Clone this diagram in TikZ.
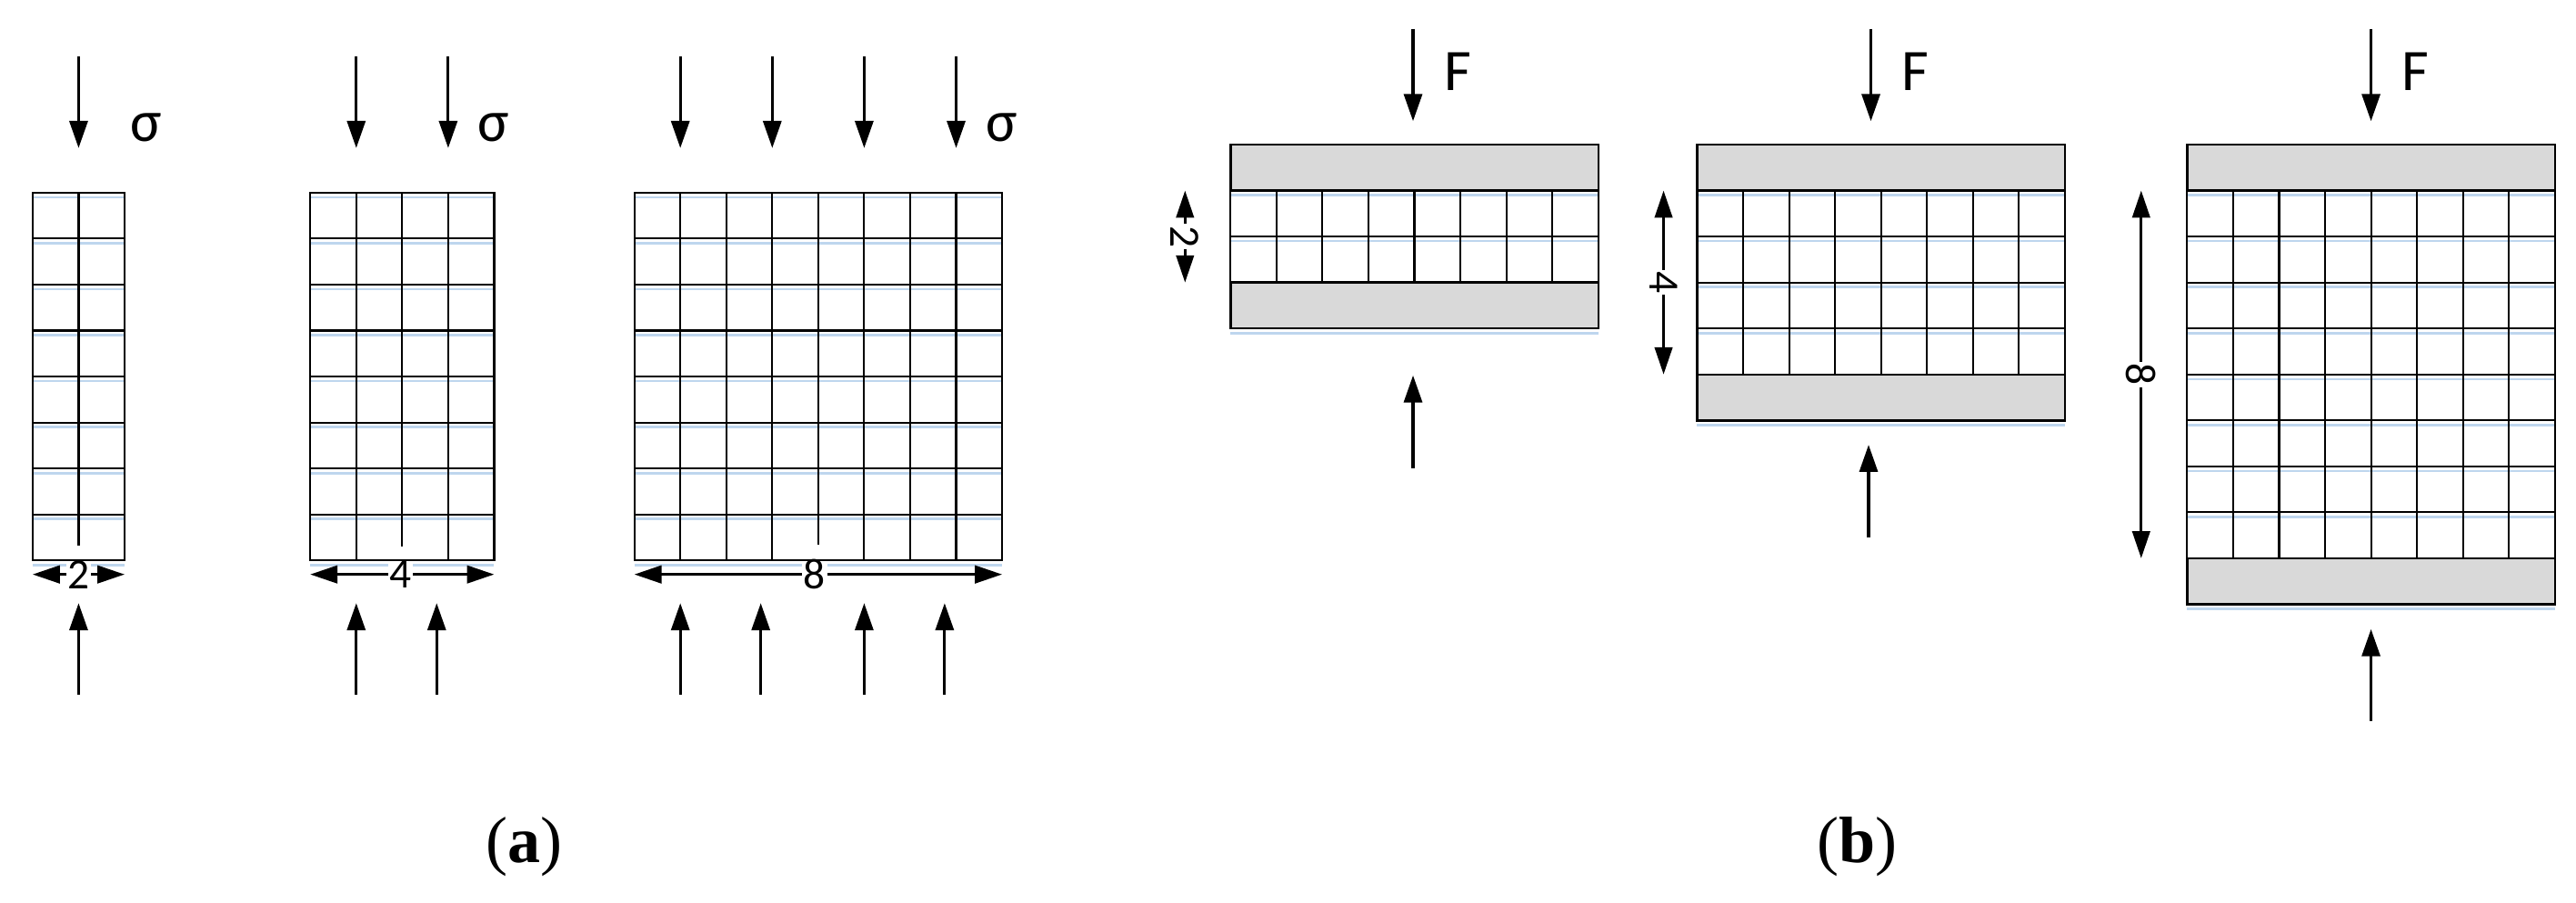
\documentclass[tikz,border=0pt]{standalone}
\usepackage{fontspec}
\setmainfont{Carlito}
\newfontfamily\capfont{Liberation Serif}
\usetikzlibrary{arrows.meta}
\definecolor{plategray}{RGB}{217,217,217}
\definecolor{shadeblue}{RGB}{190,214,238}
\tikzset{
  loadarrow/.style={line width=0.9pt,-{Triangle[length=8.5pt,width=5.7pt]}},
  dimline/.style={line width=0.9pt,{Triangle[length=8.5pt,width=5.5pt]}-{Triangle[length=8.5pt,width=5.5pt]}},
  gridline/.style={line width=0.6pt,step=1},
  blueline/.style={draw=shadeblue,line width=0.75pt},
  platebox/.style={fill=plategray,draw=black,line width=0.7pt},
  dimlabel/.style={fill=white,inner xsep=0.5pt,inner ysep=4.5pt,font=\fontsize{13.5}{15}\selectfont},
  symlabel/.style={font=\fontsize{18.4}{20}\selectfont},
  caplabel/.style={font=\capfont\fontsize{20.5}{22}\selectfont}
}
\begin{document}
\begin{tikzpicture}[x=0.5055cm,y=0.5055cm]
  \useasboundingbox (0,0) rectangle (56.04,-19.64);

  \begin{scope}[shift={(0.71,-12.19)}]
    \foreach \y in {0,...,8} \draw[blueline] (0,\y-0.1) -- (2,\y-0.1);
    \draw[gridline] (0,0) grid (2,8);
    \draw[dimline] (0,-0.305) -- (2,-0.305) node[dimlabel,midway] (wa1) {2};
    \draw[gridline] (0,0) rectangle (2,8);
    \draw[loadarrow] (1,10.96) -- (1,8.97);
    \node[symlabel] (sa1) at (2.475,9.42) {σ};
    \draw[loadarrow] (1,-2.92) -- (1,-0.93);
  \end{scope}

  \begin{scope}[shift={(6.75,-12.19)}]
    \foreach \y in {0,...,8} \draw[blueline] (0,\y-0.1) -- (4,\y-0.1);
    \draw[gridline] (0,0) grid (4,8);
    \draw[dimline] (0,-0.305) -- (4,-0.305) node[dimlabel,pos=0.49] (wa2) {4};
    \draw[gridline] (0,0) rectangle (4,8);
    \draw[loadarrow] (1,10.96) -- (1,8.97);
    \draw[loadarrow] (3,10.96) -- (3,8.97);
    \node[symlabel] (sa2) at (3.99,9.42) {σ};
    \draw[loadarrow] (1,-2.92) -- (1,-0.93);
    \draw[loadarrow] (2.75,-2.92) -- (2.75,-0.93);
  \end{scope}

  \begin{scope}[shift={(13.8,-12.19)}]
    \foreach \y in {0,...,8} \draw[blueline] (0,\y-0.1) -- (8,\y-0.1);
    \draw[gridline] (0,0) grid (8,8);
    \draw[dimline] (0,-0.305) -- (8,-0.305) node[dimlabel,pos=0.49] (wa3) {8};
    \draw[gridline] (0,0) rectangle (8,8);
    \draw[loadarrow] (1,10.96) -- (1,8.97);
    \draw[loadarrow] (3,10.96) -- (3,8.97);
    \draw[loadarrow] (5,10.96) -- (5,8.97);
    \draw[loadarrow] (7,10.96) -- (7,8.97);
    \node[symlabel] (sa3) at (8.0,9.42) {σ};
    \draw[loadarrow] (1,-2.92) -- (1,-0.93);
    \draw[loadarrow] (2.75,-2.92) -- (2.75,-0.93);
    \draw[loadarrow] (5,-2.92) -- (5,-0.93);
    \draw[loadarrow] (6.75,-2.92) -- (6.75,-0.93);
  \end{scope}

  \begin{scope}[shift={(26.77,-7.145)}]
    \foreach \y in {3,2,0} \draw[blueline] (0,\y-0.1) -- (8,\y-0.1);
    \draw[gridline] (0,1) grid (8,3);
    \draw[platebox] (0,0) rectangle (8,1);
    \draw[platebox] (0,3) rectangle (8,4);
    \draw[loadarrow] (3.97,6.52) -- (3.97,4.51);
    \node[symlabel] (fb1) at (4.94,5.58) {F};
    \draw[loadarrow] (3.97,-3.04) -- (3.97,-1.02);
    \draw[dimline] (-0.99,1) -- (-0.99,3) node[dimlabel,midway,rotate=-90] (hb1) {2};
  \end{scope}

  \begin{scope}[shift={(36.92,-9.145)}]
    \foreach \y in {5,4,3,2,0} \draw[blueline] (0,\y-0.1) -- (8,\y-0.1);
    \draw[gridline] (0,1) grid (8,5);
    \draw[platebox] (0,0) rectangle (8,1);
    \draw[platebox] (0,5) rectangle (8,6);
    \draw[loadarrow] (3.78,8.52) -- (3.78,6.51);
    \node[symlabel] (fb2) at (4.75,7.58) {F};
    \draw[loadarrow] (3.73,-2.55) -- (3.73,-0.53);
    \draw[dimline] (-0.73,1) -- (-0.73,5) node[dimlabel,midway,rotate=-90] (hb2) {4};
  \end{scope}

  \begin{scope}[shift={(47.58,-13.145)}]
    \foreach \y in {9,8,7,6,5,4,3,2,0} \draw[blueline] (0,\y-0.1) -- (8,\y-0.1);
    \draw[gridline] (0,1) grid (8,9);
    \draw[platebox] (0,0) rectangle (8,1);
    \draw[platebox] (0,9) rectangle (8,10);
    \draw[loadarrow] (4,12.52) -- (4,10.51);
    \node[symlabel] (fb3) at (4.97,11.58) {F};
    \draw[loadarrow] (4,-2.54) -- (4,-0.54);
    \draw[dimline] (-1.0,1) -- (-1.0,9) node[dimlabel,midway,rotate=-90] (hb3) {8};
  \end{scope}

  \node[caplabel] (capa) at (11.41,-18.42) {(\textbf{a})};
  \node[caplabel] (capb) at (40.4,-18.42) {(\textbf{b})};
\end{tikzpicture}
\end{document}
